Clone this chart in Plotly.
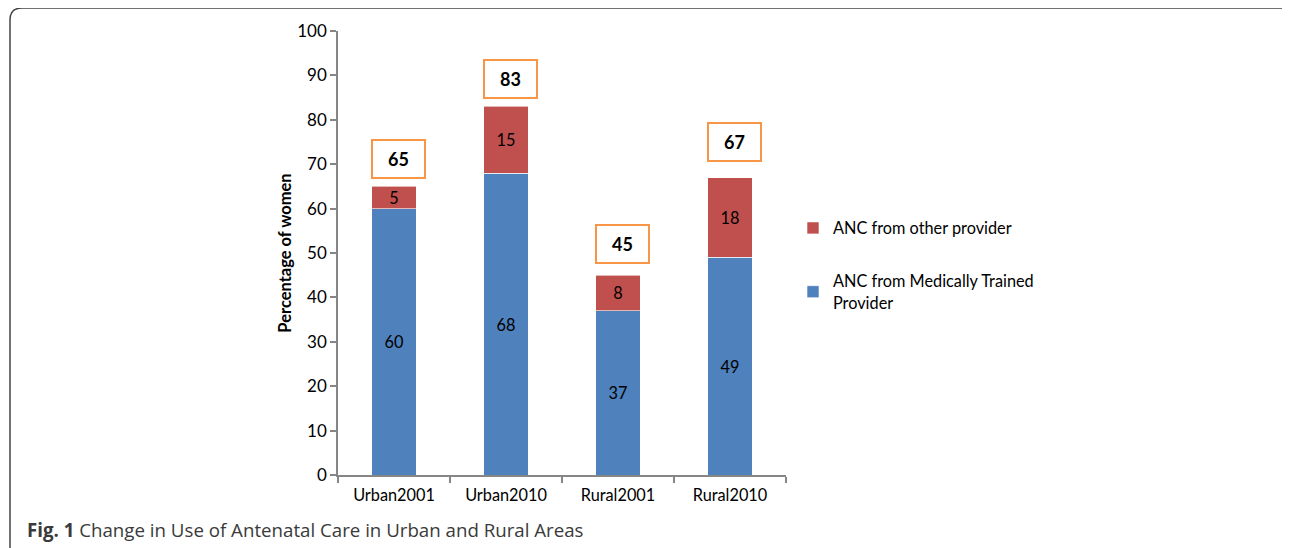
import plotly.graph_objects as go

categories = ["Urban2001", "Urban2010", "Rural2001", "Rural2010"]
medically_trained = [60, 68, 37, 49]
other_provider = [5, 15, 8, 18]
totals = [65, 83, 45, 67]
y_ticks = [0, 10, 20, 30, 40, 50, 60, 70, 80, 90, 100]

BLUE = "#4F81BD"
RED = "#C0504D"
ORANGE = "#F79646"
FONT = "Lato"
FS = 16.3

fig = go.Figure()
fig.add_trace(go.Bar(
    x=categories, y=medically_trained, name="ANC from Medically Trained<br>Provider",
    marker=dict(color=BLUE, line=dict(color="rgba(255,255,255,0.6)", width=1)),
    text=medically_trained, textposition="inside", insidetextanchor="middle", textangle=0,
    textfont=dict(color="black", size=FS, family=FONT), constraintext="none",
    width=0.4, legendgroup="b", legendrank=2,
))
fig.add_trace(go.Bar(
    x=categories, y=other_provider, name="ANC from other provider",
    marker=dict(color=RED, line=dict(color="rgba(255,255,255,0.6)", width=1)),
    text=other_provider, textposition="inside", insidetextanchor="middle", textangle=0,
    textfont=dict(color="black", size=FS, family=FONT), constraintext="none",
    width=0.4, legendgroup="a", legendrank=1,
))

# total boxes
box_dy = [6.2, 6.1, 7.1, 8.0]
for i, (c, t) in enumerate(zip(categories, totals)):
    fig.add_annotation(
        x=i + 0.04, y=t + box_dy[i], xref="x", yref="y",
        text=f"<b>{t}</b>", showarrow=False,
        font=dict(size=18, color="black", family=FONT),
        bordercolor=ORANGE, borderwidth=2, borderpad=3,
        width=45, height=30, bgcolor="white",
    )


# page-pixel -> paper helpers (plot area spans x 338..786, y 31..475.5 on the page)
def px(x):
    return (x - 338) / 448


def py(y):
    return (475.5 - y) / 444.5


# caption
fig.add_annotation(
    x=px(25), y=py(530), xref="paper", yref="paper",
    xanchor="left", yanchor="middle", showarrow=False,
    text="<b>Fig. 1</b> Change in Use of Antenatal Care in Urban and Rural Areas",
    font=dict(family="Open Sans", size=18.7, color="#3a3a3a"),
)

# frame around the figure
path = (f"M {px(10)},{py(600)} L {px(10)},{py(20)} Q {px(10)},{py(8)} {px(22)},{py(8)} "
        f"L {px(1286)},{py(8)} Q {px(1294)},{py(8)} {px(1296)},{py(14)}")
fig.add_shape(type="path", path=path, xref="paper", yref="paper",
              line=dict(color="#444444", width=1.5), layer="below")

fig.update_layout(
    width=1282, height=540,
    margin=dict(l=330, r=504, t=23, b=72.5, pad=0),
    barmode="stack",
    plot_bgcolor="white", paper_bgcolor="white",
    font=dict(family=FONT, size=FS, color="black"),
    showlegend=True,
    legend=dict(x=px(793), y=py(211), xanchor="left", yanchor="top",
                traceorder="grouped", tracegroupgap=29,
                font=dict(size=FS, family=FONT, color="black"),
                itemwidth=30, bgcolor="rgba(0,0,0,0)"),
    xaxis=dict(range=[-0.5, 3.5], showline=True, linecolor="#868686", linewidth=1.5,
               ticks="outside", tickson="boundaries", ticklen=6, tickwidth=1.5,
               tickcolor="#868686", ticklabelstandoff=5,
               showgrid=False, tickfont=dict(size=FS, family=FONT)),
    yaxis=dict(range=[0, 100], tickvals=y_ticks, showline=True, linecolor="#868686",
               linewidth=1.5, ticks="outside", ticklen=6, tickwidth=1.5, tickcolor="#868686",
               showgrid=False, zeroline=False, tickfont=dict(size=17, family=FONT),
               ticksuffix="\u00a0",
               title=dict(text="<b>Percentage of women</b>", font=dict(size=16.5, family=FONT),
                          standoff=1)),
)

fig.write_html("out.html")
